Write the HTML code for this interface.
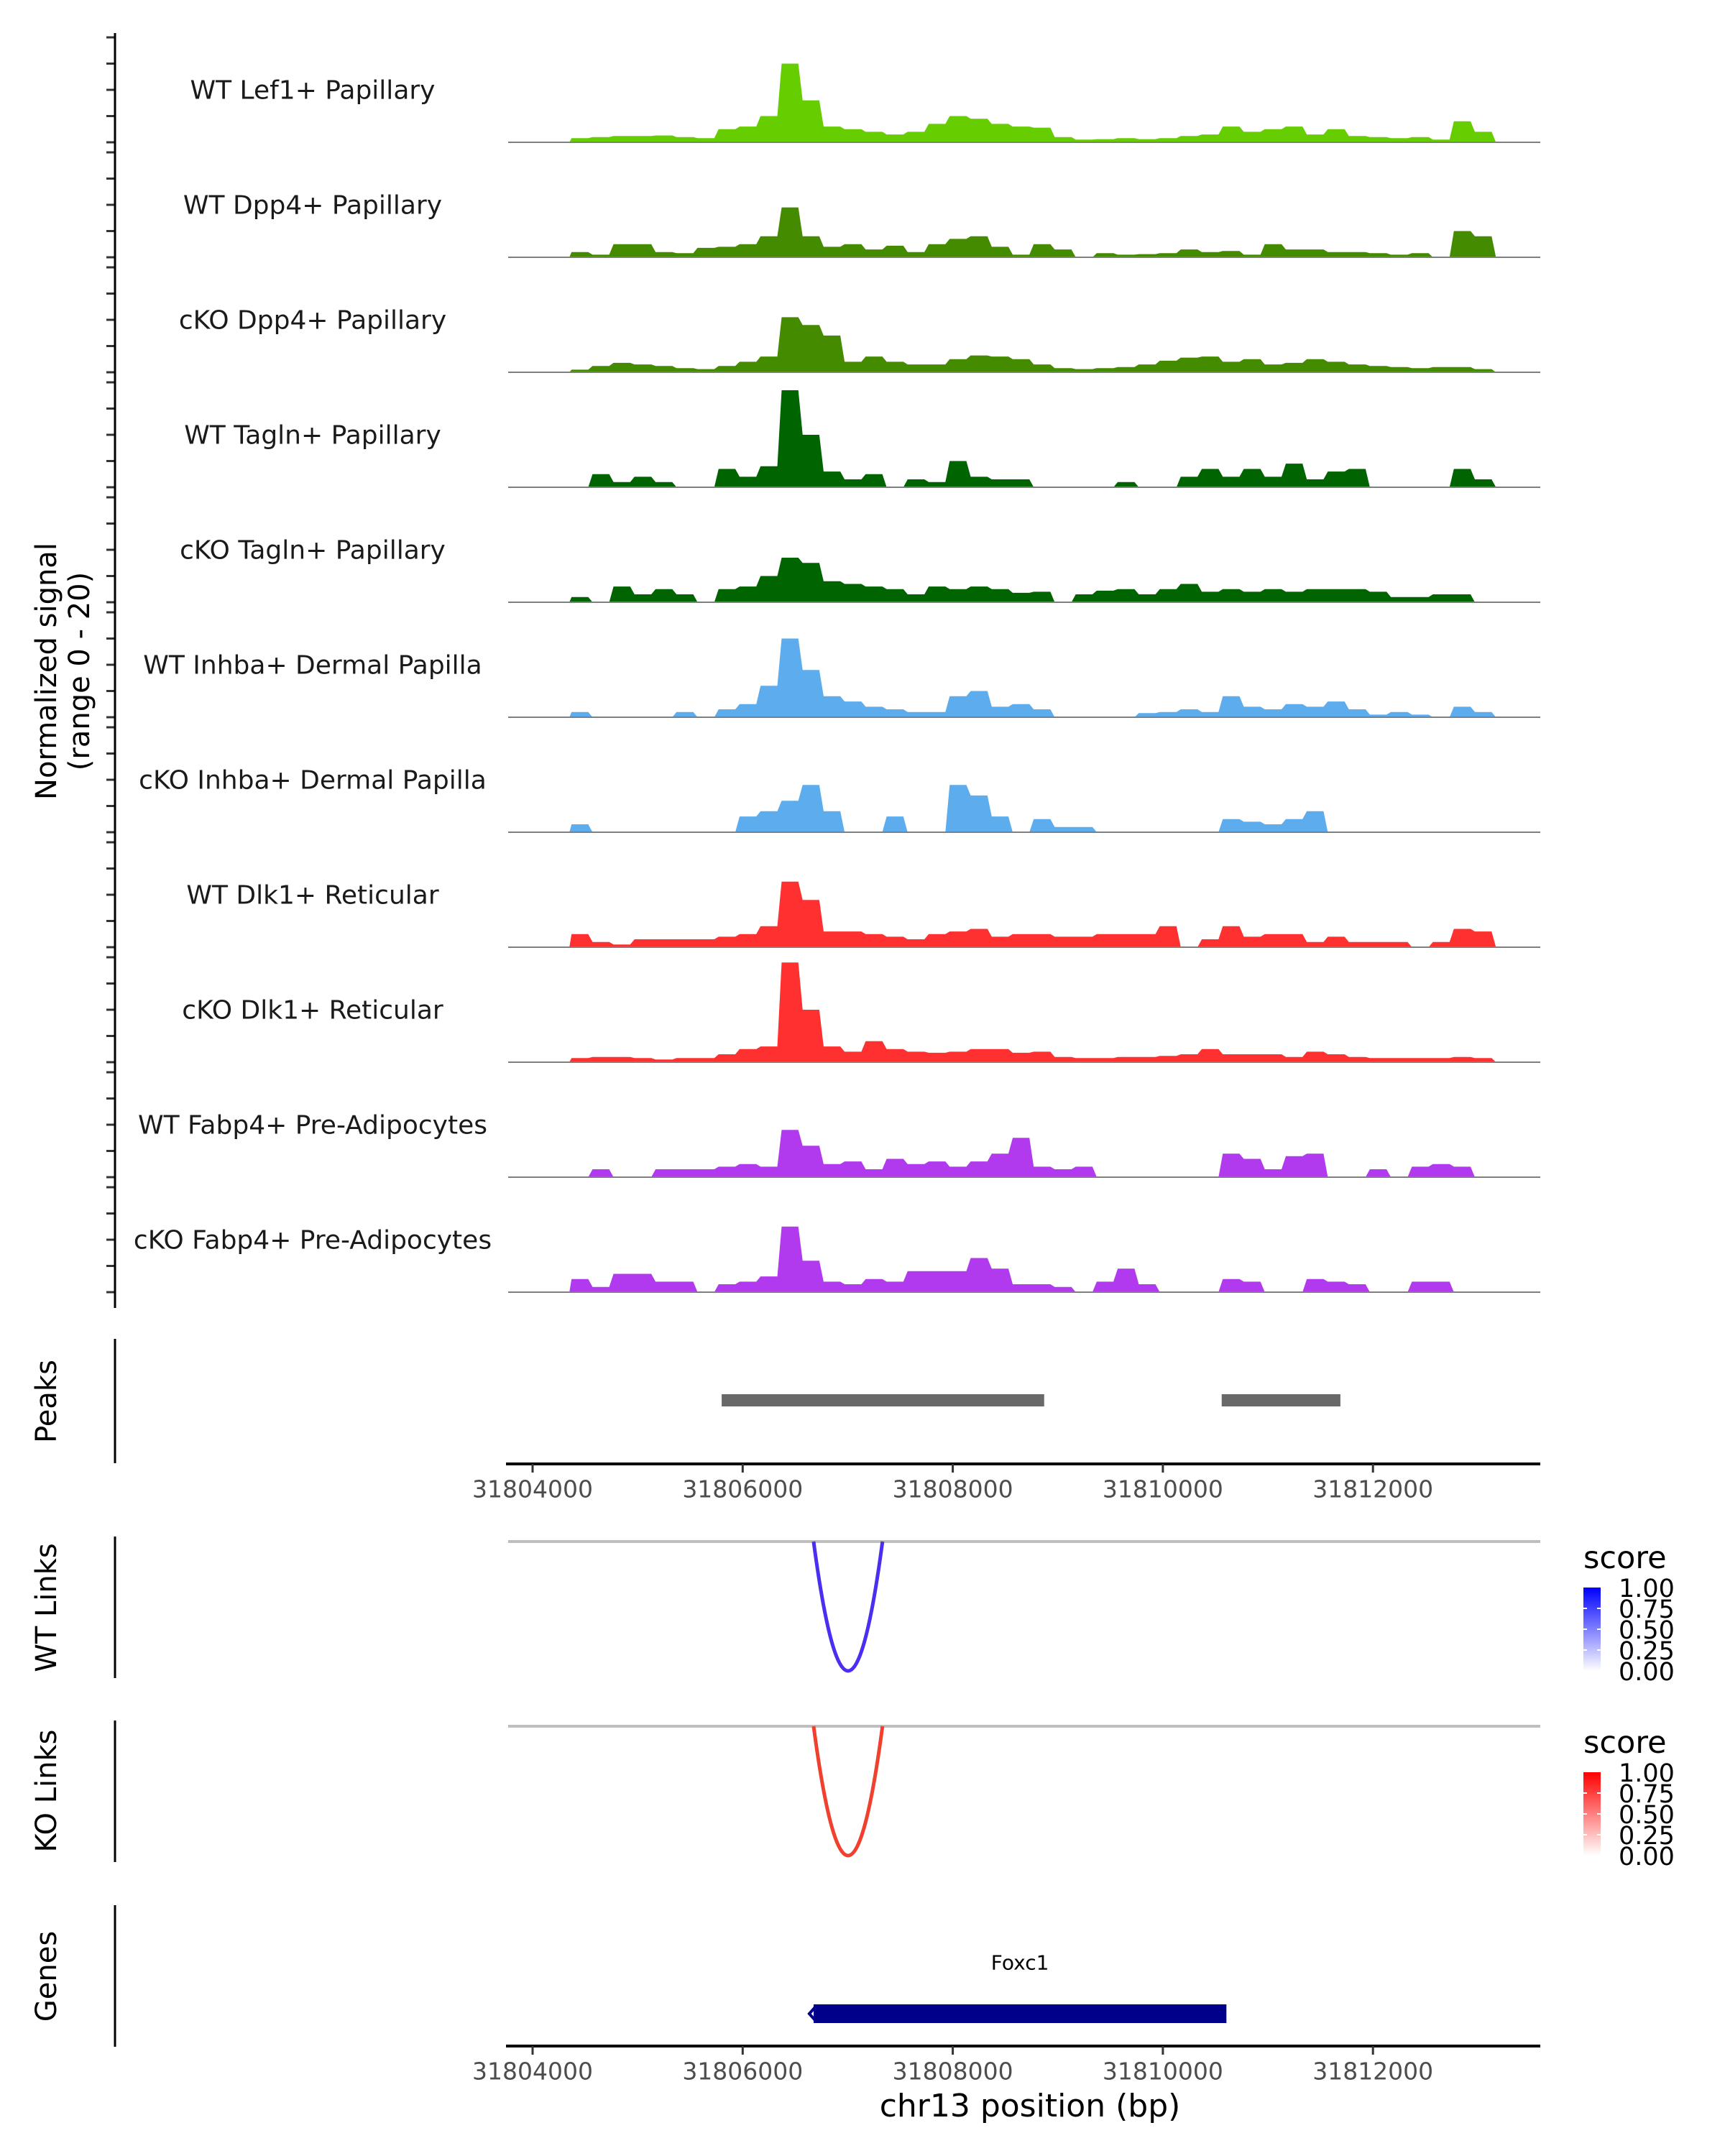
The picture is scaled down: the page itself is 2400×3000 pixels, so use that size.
<!DOCTYPE html>
<html><head><meta charset="utf-8"><style>
html,body{margin:0;padding:0;background:#fff;}
svg{display:block;font-family:"DejaVu Sans","Liberation Sans",sans-serif;}
</style></head><body>
<svg id="chart" xmlns="http://www.w3.org/2000/svg" width="2400" height="3000" viewBox="0 0 2400 3000">
<rect width="2400" height="3000" fill="#fff"/>
<defs>
<linearGradient id="gBlue" x1="0" y1="1" x2="0" y2="0"><stop offset="0" stop-color="#ffffff"/><stop offset="1" stop-color="#0000ff"/></linearGradient>
<linearGradient id="gRed" x1="0" y1="1" x2="0" y2="0"><stop offset="0" stop-color="#ffffff"/><stop offset="1" stop-color="#ff0000"/></linearGradient>
<clipPath id="trackClip"><rect x="707" y="0" width="1436" height="3000"/></clipPath>
</defs>
<g id="tracks"></g>
<g id="fixed">
<text transform="translate(78,934) rotate(-90)" text-anchor="middle" font-size="40" fill="#000">Normalized signal</text>
<text transform="translate(124,934) rotate(-90)" text-anchor="middle" font-size="40" fill="#000">(range 0 - 20)</text>
<line x1="160" y1="46" x2="160" y2="1820" stroke="#000" stroke-width="3"/>
<text transform="translate(78,1950) rotate(-90)" text-anchor="middle" font-size="40">Peaks</text>
<line x1="160" y1="1863" x2="160" y2="2036" stroke="#000" stroke-width="3"/>
<text transform="translate(78,2237) rotate(-90)" text-anchor="middle" font-size="40">WT Links</text>
<line x1="160" y1="2138" x2="160" y2="2335" stroke="#000" stroke-width="3"/>
<text transform="translate(78,2492) rotate(-90)" text-anchor="middle" font-size="40">KO Links</text>
<line x1="160" y1="2394" x2="160" y2="2591" stroke="#000" stroke-width="3"/>
<text transform="translate(78,2750) rotate(-90)" text-anchor="middle" font-size="40">Genes</text>
<line x1="160" y1="2651" x2="160" y2="2848" stroke="#000" stroke-width="3"/>
<line x1="707" y1="2145" x2="2143" y2="2145" stroke="#bebebe" stroke-width="4"/>
<line x1="707" y1="2402" x2="2143" y2="2402" stroke="#bebebe" stroke-width="4"/>
<g>
<text x="2203" y="2182" font-size="43">score</text>
<rect x="2203" y="2209" width="24" height="116" fill="url(#gBlue)"/>
<g stroke="#fff" stroke-width="2"><line x1="2203" x2="2208" y1="2238" y2="2238"/><line x1="2222" x2="2227" y1="2238" y2="2238"/><line x1="2203" x2="2208" y1="2267" y2="2267"/><line x1="2222" x2="2227" y1="2267" y2="2267"/><line x1="2203" x2="2208" y1="2296" y2="2296"/><line x1="2222" x2="2227" y1="2296" y2="2296"/></g>
<g font-size="35" dominant-baseline="central"><text x="2252" y="2211">1.00</text><text x="2252" y="2240">0.75</text><text x="2252" y="2269">0.50</text><text x="2252" y="2298">0.25</text><text x="2252" y="2327">0.00</text></g>
</g>
<g transform="translate(0,257)">
<text x="2203" y="2182" font-size="43">score</text>
<rect x="2203" y="2209" width="24" height="116" fill="url(#gRed)"/>
<g stroke="#fff" stroke-width="2"><line x1="2203" x2="2208" y1="2238" y2="2238"/><line x1="2222" x2="2227" y1="2238" y2="2238"/><line x1="2203" x2="2208" y1="2267" y2="2267"/><line x1="2222" x2="2227" y1="2267" y2="2267"/><line x1="2203" x2="2208" y1="2296" y2="2296"/><line x1="2222" x2="2227" y1="2296" y2="2296"/></g>
<g font-size="35" dominant-baseline="central"><text x="2252" y="2211">1.00</text><text x="2252" y="2240">0.75</text><text x="2252" y="2269">0.50</text><text x="2252" y="2298">0.25</text><text x="2252" y="2327">0.00</text></g>
</g>
<text x="1433" y="2945" text-anchor="middle" font-size="44">chr13 position (bp)</text>
</g>
</svg>
<script>
// ---- data ----
const binStart = 31804350;
const binSize = 200;
const trackNames = ["WT Lef1+ Papillary","WT Dpp4+ Papillary","cKO Dpp4+ Papillary","WT Tagln+ Papillary","cKO Tagln+ Papillary","WT Inhba+ Dermal Papilla","cKO Inhba+ Dermal Papilla","WT Dlk1+ Reticular","cKO Dlk1+ Reticular","WT Fabp4+ Pre-Adipocytes","cKO Fabp4+ Pre-Adipocytes"];
const trackColors = ["#66cd00","#458b00","#458b00","#006400","#006400","#5cacee","#5cacee","#ff3030","#ff3030","#b23aee","#b23aee"];
const sigLef1WT  = [0.8,1,1.2,1.2,1.3,1,0.8,2.5,3,5,15,8,3,2.5,2,1.5,2,3.5,5,4.5,3.5,3,2.8,1,0.5,0.6,0.8,0.6,0.8,1.2,1.5,3,2,2.5,3,1.5,2.5,1.2,1,0.8,1,0.5,4,2,0,0];
const sigDpp4WT  = [1,0.5,2.5,2.5,1,0.8,1.8,2,2.5,4,9.5,4,2,2.5,1.5,2.2,1,2.5,3.5,4,2,0.5,2.5,1.5,0,0.8,0.5,0.6,0.8,1.5,1,1.2,0.5,2.5,1.5,1.5,1,1,0.8,0.5,0.8,0,5,4,0,0];
const sigDpp4KO  = [0.5,1.2,1.8,1.5,1.2,0.8,0.6,1.2,2,3,10.5,9,7,2,3,2,1.5,1.5,2.5,3.2,3,2.5,1.5,0.8,0.6,0.8,1,1.5,2.2,2.8,3,2,2.5,1.5,1.8,2.5,2,1.5,1.2,1,0.8,1,1,0.6,0,0];
const sigTaglnWT = [0,2.5,1,2,1,0,0,3.5,2,4,18.5,10,3,1.5,2.5,0,1.5,1,5,2,1.5,1.5,0,0,0,0,1,0,0,2,3.5,2,3.5,2,4.5,1.5,3,3.5,0,0,0,0,3.5,1.5,0,0];
const sigTaglnKO = [1,0,3,1.5,2.5,1.5,0,2.5,3,5,8.5,7.5,4,3.5,3,2.5,1.5,3,2.5,3,2.5,1.8,2,0,1.5,2.2,2.5,1.5,2.5,3.5,2,2.5,2,2.5,2,2.5,2.5,2.5,2,1,1,1.5,1.5,0,0,0];
const sigInhbaWT = [1,0,0,0,0,1,0,1.5,2.5,6,15,9,4,3,2,1.5,1,1,4,5,2,2.5,1.5,0,0,0,0,0.8,1,1.5,1,4,2,1.5,2.5,2,3,1.5,0.5,1,0.5,0,2,1,0,0];
const sigInhbaKO = [1.5,0,0,0,0,0,0,0,3,4,6,9,4,0,0,3,0,0,9,7,3,0,2.5,1,1,0,0,0,0,0,0,2.5,2,1.5,2.5,4,0,0,0,0,0,0,0,0,0,0];
const sigDlk1WT  = [2.5,1,0.5,1.5,1.5,1.5,1.5,2,2.5,4,12.5,9,3,3,2.5,2,1.5,2.5,3,3.5,2,2.5,2.5,2,2,2.5,2.5,2.5,4,0,1.5,4,2,2.5,2.5,1,2,1,1,1,0,1,3.5,3,0,0];
const sigDlk1KO  = [0.8,1,1,0.8,0.5,0.8,0.8,1.5,2.5,3,19,10,3,2,4,2.5,2,1.8,2,2.5,2.5,1.8,2,1,0.8,0.8,1,1,1.2,1.5,2.5,1.5,1.5,1.5,1,2,1.5,1,0.8,0.8,0.8,0.8,1,0.8,0,0];
const sigFabp4WT = [0,1.5,0,0,1.5,1.5,1.5,2,2.5,2,9,6,2.5,3,1.5,3.5,2.5,3,2,3,4.5,7.5,2,1.5,2,0,0,0,0,0,0,4.5,3.5,1.5,4,4.5,0,0,1.5,0,2,2.5,2,0,0,0];
const sigFabp4KO = [2.5,1,3.5,3.5,2,2,0,1.5,2,3,12.5,6,2,1.5,2.5,2,4,4,4,6.5,4.5,1.5,1.5,1,0,2,4.5,1.5,0,0,0,2.5,2,0,0,2.5,2,1.5,0,0,2,2,0,0,0,0];
const signals = [sigLef1WT,sigDpp4WT,sigDpp4KO,sigTaglnWT,sigTaglnKO,sigInhbaWT,sigInhbaKO,sigDlk1WT,sigDlk1KO,sigFabp4WT,sigFabp4KO];
const peakStarts = [31805800, 31810560];
const peakEnds   = [31808870, 31811690];
const xTicks = [31804000,31806000,31808000,31810000,31812000];
const linkStart = 31806675, linkEnd = 31807331;
const linkScoresWT = [0.75];
const linkScoresKO = [0.75];
const geneName = "Foxc1";
const geneStart = 31806675, geneEnd = 31810605;

// ---- scales ----
const NS = "http://www.w3.org/2000/svg";
const X0 = 741, PXBP = 0.14615;
function xs(bp){ return X0 + (bp - 31804000) * PXBP; }
const yMax = 20, trackH = 146, firstBase = 198, spacing = 160;
function ys(v, base){ return base - v / yMax * trackH; }
function mk(tag, attrs, parent){ const e = document.createElementNS(NS, tag); for (const k in attrs) e.setAttribute(k, attrs[k]); parent.appendChild(e); return e; }

const svg = document.getElementById('chart');
const tg = document.getElementById('tracks');

signals.forEach((sig, t) => {
  const base = firstBase + spacing * t;
  const g = mk('g', {}, tg);
  
  
  for (let v = 0; v <= 20; v += 5) {
    const tk = mk('line', {x1:148, x2:160, y1:ys(v,base), y2:ys(v,base), stroke:'#333', 'stroke-width':3}, g);
    
    
  }
  const lab = mk('text', {x:435, y:base-72, 'text-anchor':'middle', 'dominant-baseline':'central', 'font-size':36, fill:'#1a1a1a'}, g);
  lab.textContent = trackNames[t];
  
  
  let d = 'M' + xs(binStart).toFixed(1) + ',' + base;
  sig.forEach((v, i) => {
    const xa = xs(binStart + i*binSize), xb = xs(binStart + (i+1)*binSize);
    d += 'L' + (xa+3).toFixed(1) + ',' + ys(v,base).toFixed(1) + 'L' + (xb-3).toFixed(1) + ',' + ys(v,base).toFixed(1);
  });
  d += 'L' + xs(binStart + sig.length*binSize).toFixed(1) + ',' + base + 'Z';
  const area = mk('path', {d:d, fill:trackColors[t], 'clip-path':'url(#trackClip)'}, g);
  
  
  const bl = mk('line', {x1:707, x2:2143, y1:base, y2:base, stroke:'#7f7f7f', 'stroke-width':2}, g);
  
  
});

peakStarts.forEach((s, i) => {
  const r = mk('rect', {x:xs(s), y:1940, width:xs(peakEnds[i])-xs(s), height:17, fill:'#696969'}, svg);
  
  
});

function xAxis(y, name){
  const g = mk('g', {}, svg);
  
  
  mk('line', {x1:704, x2:2143, y1:y, y2:y, stroke:'#000', 'stroke-width':4}, g);
  xTicks.forEach(t => {
    mk('line', {x1:xs(t), x2:xs(t), y1:y, y2:y+12, stroke:'#333', 'stroke-width':3}, g);
    const tx = mk('text', {x:xs(t), y:y+35, 'text-anchor':'middle', 'dominant-baseline':'central', 'font-size':33, fill:'#4d4d4d'}, g);
    tx.textContent = String(t);
  });
}
xAxis(2037, 'peaks-x-axis');
xAxis(2847, 'genes-x-axis');

function arc(lineY, depth, color, name){
  const xa = xs(linkStart), xb = xs(linkEnd);
  const bottom = lineY + depth;
  const p = mk('path', {d:'M'+xa+','+lineY+' Q'+((xa+xb)/2)+','+(2*bottom-lineY)+' '+xb+','+lineY, fill:'none', stroke:color, 'stroke-width':5}, svg);
  
  
}
arc(2145, 180*linkScoresWT[0]/0.75, '#4a2ff0', 'wt-link-arc');
arc(2402, 180*linkScoresKO[0]/0.75, '#f0412f', 'ko-link-arc');

const gb = mk('rect', {x:xs(geneStart), y:2789, width:xs(geneEnd)-xs(geneStart), height:26, fill:'#00008b'}, svg);


const ga = mk('path', {d:'M'+(xs(geneStart)+2)+',2793 L'+(xs(geneStart)-6)+',2802 L'+(xs(geneStart)+2)+',2811', fill:'none', stroke:'#00008b', 'stroke-width':4}, svg);


const gt = mk('text', {x:(xs(geneStart)+xs(geneEnd))/2, y:2731, 'text-anchor':'middle', 'dominant-baseline':'central', 'font-size':28, fill:'#000'}, svg);
gt.textContent = geneName;


</script>
</body></html>
